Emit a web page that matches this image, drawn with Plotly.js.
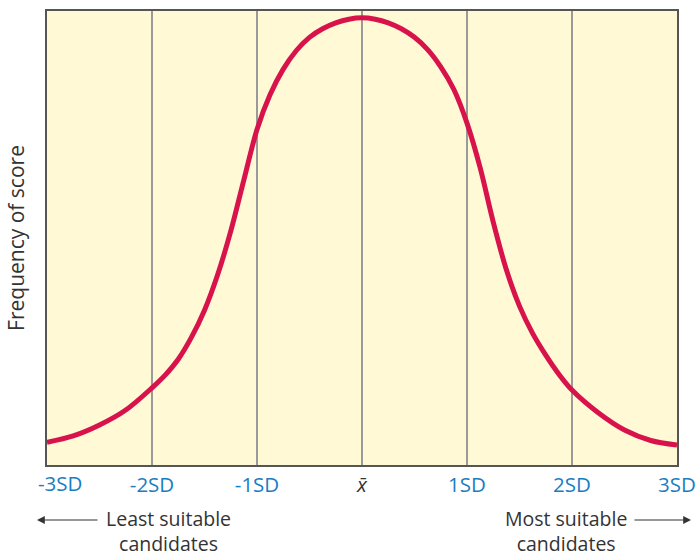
<!DOCTYPE html>
<html>
<head>
<meta charset="utf-8">
<script src="https://cdn.plot.ly/plotly-3.0.1.min.js"></script>
<style>html,body{margin:0;padding:0;background:#fff;}#chart{width:697px;height:557px;}</style>
</head>
<body>
<div id="chart"></div>
<script>
// Position in standard deviations from the mean
const sdPositions = [-3, -2.75, -2.5, -2.25, -2, -1.875, -1.75, -1.625, -1.5, -1.375, -1.25, -1.125, -1, -0.875, -0.75, -0.625, -0.5, -0.375, -0.25, -0.125, 0,
                     0.125, 0.25, 0.375, 0.5, 0.625, 0.75, 0.875, 1, 1.125, 1.25, 1.375, 1.5, 1.625, 1.75, 1.875, 2, 2.25, 2.5, 2.75, 3];
// Frequency of score (relative)
const frequency = [5.0, 6.4, 8.8, 12.1, 17.0, 19.8, 23.3, 28.1, 34.1, 41.9, 51.5, 62.8, 73.9, 81.6, 87.2, 91.3, 94.2, 96.1, 97.4, 98.2, 98.5,
                   98.2, 97.4, 96.1, 94.2, 91.5, 87.7, 82.7, 75.3, 65.5, 53.5, 43.0, 35.0, 29.0, 24.2, 20.0, 16.5, 11.5, 7.7, 5.4, 4.4];
const tickValues = [-3, -2, -1, 0, 1, 2, 3];
const tickLabels = ['-3SD', '-2SD', '-1SD', '<span style="color:#333333"><i>x\u0304</i></span>', '1SD', '2SD', '3SD'];

const font = 'Open Sans, Noto Sans, sans-serif';
const textColor = '#333333';
const tickColor = '#1A7DC2';

const trace = {
  x: sdPositions,
  y: frequency,
  type: 'scatter',
  mode: 'lines',
  line: {color: '#D8134B', width: 5, shape: 'spline', smoothing: 0.9},
  hoverinfo: 'skip'
};

// The first tick label sits shifted inward in the reference; draw it as an annotation
const axisTickText = tickLabels.map((t, i) => (i === 0 ? '' : t));

const layout = {
  width: 697,
  height: 557,
  margin: {l: 47, r: 20, t: 11, b: 92},
  paper_bgcolor: '#ffffff',
  plot_bgcolor: '#FFF9D6',
  showlegend: false,
  xaxis: {
    range: [-3, 3],
    tickmode: 'array',
    tickvals: tickValues,
    ticktext: axisTickText,
    showgrid: true,
    gridcolor: '#9A9A9A',
    gridwidth: 1.5,
    zeroline: false,
    showline: true,
    mirror: true,
    linecolor: '#555555',
    linewidth: 2,
    ticks: '',
    tickfont: {family: font, size: 20.5, color: tickColor},
    fixedrange: true
  },
  yaxis: {
    range: [0, 100],
    showgrid: false,
    zeroline: false,
    showticklabels: false,
    showline: true,
    mirror: true,
    linecolor: '#555555',
    linewidth: 2,
    ticks: '',
    title: {text: 'Frequency of score', font: {family: font, size: 21, color: textColor}, standoff: 15},
    fixedrange: true
  },
  annotations: [
    {xref: 'x', yref: 'paper', x: tickValues[0] + 13 / 105, y: (465 - 483) / 454, text: tickLabels[0], showarrow: false,
     font: {family: font, size: 20.5, color: tickColor}, xanchor: 'center', yanchor: 'middle'},
    {xref: 'paper', yref: 'paper', x: (168 - 47) / 630, y: (465 - 531) / 454, text: 'Least suitable<br>candidates', showarrow: false,
     font: {family: font, size: 19.5, color: textColor}, xanchor: 'center', yanchor: 'middle', align: 'center'},
    {xref: 'paper', yref: 'paper', x: (565.5 - 47) / 630, y: (465 - 531) / 454, text: 'Most suitable<br>candidates', showarrow: false,
     font: {family: font, size: 19.5, color: textColor}, xanchor: 'center', yanchor: 'middle', align: 'center'},
    {xref: 'paper', yref: 'paper', x: (37 - 47) / 630, y: (465 - 520) / 454, text: '', showarrow: true,
     ax: 62, ay: 0, arrowhead: 2, arrowsize: 1.3, arrowwidth: 1.2, arrowcolor: textColor},
    {xref: 'paper', yref: 'paper', x: (691 - 47) / 630, y: (465 - 520) / 454, text: '', showarrow: true,
     ax: -58, ay: 0, arrowhead: 2, arrowsize: 1.3, arrowwidth: 1.2, arrowcolor: textColor}
  ]
};

Plotly.newPlot('chart', [trace], layout, {displayModeBar: false, staticPlot: true});
</script>
</body>
</html>
